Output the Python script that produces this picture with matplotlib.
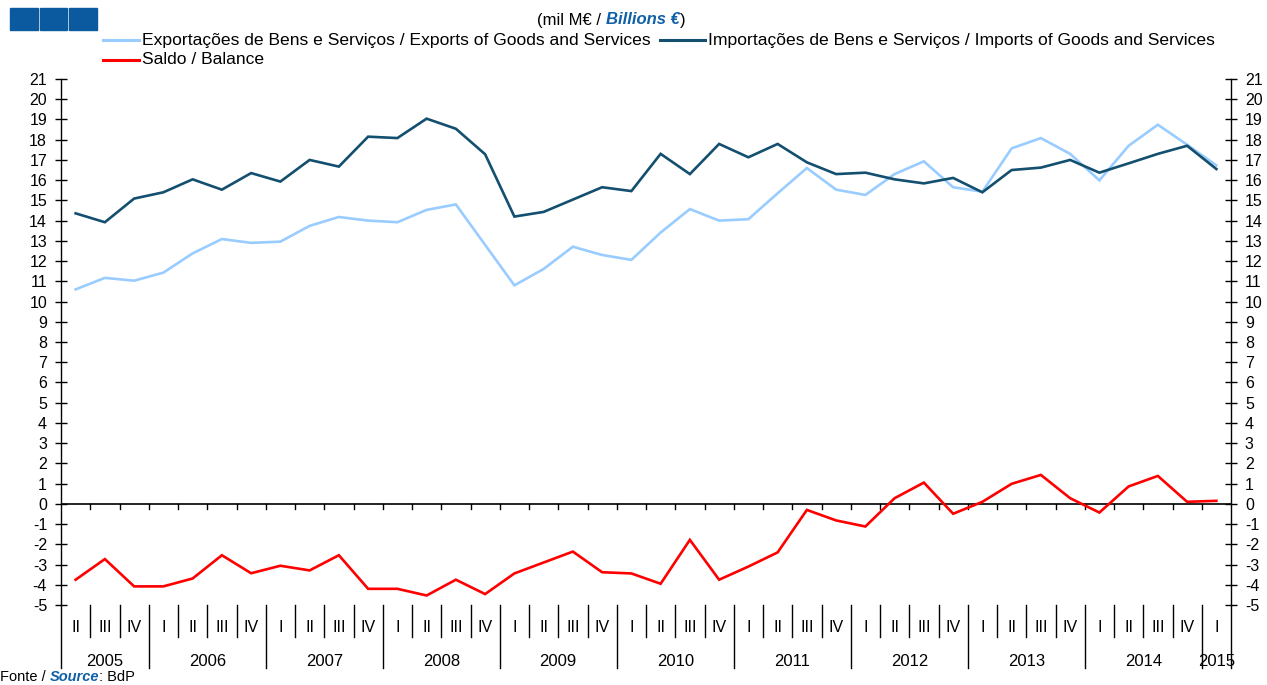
import matplotlib
matplotlib.use('Agg')
import matplotlib.pyplot as plt
from matplotlib.patches import Rectangle
from matplotlib.lines import Line2D
import numpy as np

plt.rcParams['font.family'] = ['Liberation Sans', 'DejaVu Sans']
plt.rcParams['axes.unicode_minus'] = False

years = ['2005', '2006', '2007', '2008', '2009', '2010', '2011', '2012', '2013', '2014', '2015']
quarters = (['II', 'III', 'IV'] + ['I', 'II', 'III', 'IV'] * 9 + ['I'])

exports = [10.6, 11.17, 11.03, 11.43, 12.38, 13.09, 12.9, 12.96, 13.74, 14.18,
           14.0, 13.92, 14.53, 14.8, 12.8, 10.8, 11.61, 12.71, 12.3, 12.06,
           13.41, 14.57, 14.0, 14.07, 15.35, 16.6, 15.53, 15.27, 16.3, 16.93,
           15.65, 15.43, 17.57, 18.08, 17.3, 15.99, 17.7, 18.74, 17.75, 16.73]
imports = [14.36, 13.92, 15.09, 15.4, 16.04, 15.53, 16.35, 15.93, 17.0, 16.67,
           18.15, 18.08, 19.04, 18.54, 17.28, 14.2, 14.43, 15.04, 15.65, 15.46,
           17.3, 16.3, 17.79, 17.13, 17.79, 16.88, 16.3, 16.37, 16.04, 15.84,
           16.11, 15.4, 16.5, 16.62, 17.0, 16.37, 16.83, 17.3, 17.7, 16.55]
balance = [-3.75, -2.73, -4.08, -4.08, -3.69, -2.54, -3.43, -3.06, -3.29, -2.54,
           -4.2, -4.2, -4.53, -3.75, -4.46, -3.44, -2.9, -2.36, -3.38, -3.44,
           -3.95, -1.78, -3.75, -3.1, -2.4, -0.3, -0.82, -1.12, 0.28, 1.05,
           -0.49, 0.1, 0.99, 1.43, 0.28, -0.43, 0.86, 1.38, 0.1, 0.15]

series_labels = ['Exportações de Bens e Serviços / Exports of Goods and Services',
                 'Importações de Bens e Serviços / Imports of Goods and Services',
                 'Saldo / Balance']
colors = ['#99ccff', '#134f6e', '#ff0000']

W, H = 1267, 685
fig = plt.figure(figsize=(W / 100, H / 100), dpi=100)

def fx(px):
    return px / W

def fy(py):
    return 1 - py / H

left_px, right_px, top_px, bot_px = 61, 1231, 79, 605
ax = fig.add_axes([fx(left_px), fy(bot_px), fx(right_px - left_px), (bot_px - top_px) / H])

n = len(quarters)
x = np.arange(n)
for vals, c in zip([exports, imports, balance], colors):
    ax.plot(x, vals, color=c, lw=1.9, solid_joinstyle='miter')

ax.set_xlim(-0.5, n - 0.5)
ax.set_ylim(-5, 21)
ax.set_yticks(range(-5, 22))
ax.set_xticks([])
ax.tick_params(axis='y', direction='inout', length=8, width=1, labelsize=11.5,
               left=True, right=True, labelleft=True, labelright=True, pad=6)
for s in ['top', 'bottom']:
    ax.spines[s].set_visible(False)
for s in ['left', 'right']:
    ax.spines[s].set_linewidth(1)

# zero line with small ticks at quarter boundaries
ax.axhline(0, color='black', lw=1.2, zorder=1)
bounds = np.arange(0.5, n - 0.5, 1)
for b in bounds:
    ax.plot([b, b], [0, -0.25], color='black', lw=1, zorder=1)

# category band below the plot
trans = ax.get_xaxis_transform()
band_short = -32 / (bot_px - top_px)
band_long = -63 / (bot_px - top_px)
q_y = -22 / (bot_px - top_px)
yr_y = -56 / (bot_px - top_px)

year_starts = [i for i, q in enumerate(quarters) if q == 'I']
for b in bounds:
    is_year = (int(b + 0.5) in year_starts)
    ax.plot([b, b], [0, band_long if is_year else band_short], transform=trans,
            color='black', lw=1, clip_on=False)
for xe in [-0.5, n - 0.5]:
    ax.plot([xe, xe], [band_long, 0], transform=trans, color='black', lw=1, clip_on=False)

for i, q in enumerate(quarters):
    ax.text(i, q_y, q, transform=trans, ha='center', va='center', fontsize=11.5)

edges = [-0.5] + [s - 0.5 for s in year_starts] + [n - 0.5]
for k, yr in enumerate(years):
    c = (edges[k] + edges[k + 1]) / 2
    ax.text(c, yr_y, yr, transform=trans, ha='center', va='center', fontsize=12)

# logo squares
for x0, x1 in [(10, 38), (40, 67), (69, 97)]:
    fig.add_artist(Rectangle((fx(x0), fy(30)), fx(x1 - x0), (30 - 8) / H,
                             transform=fig.transFigure, color='#0b5aa0'))

# unit title
t1 = fig.text(fx(537), fy(20), '(mil M€ / ', fontsize=12, va='center', ha='left')
a2 = fig.add_artist(matplotlib.text.Annotation('Billions €', xy=(1, 0), xycoords=t1,
                    va='bottom', ha='left', fontsize=12, fontweight='bold',
                    style='italic', color='#1060a8'))
a3 = fig.add_artist(matplotlib.text.Annotation(')', xy=(1, 0), xycoords=a2,
                    va='bottom', ha='left', fontsize=12))

# legend
leg = [(103, 139, 142, 40, 0), (660, 705, 708, 40, 1), (103, 139, 142, 60, 2)]
for xa, xb, xt, yy, k in leg:
    fig.add_artist(Line2D([fx(xa), fx(xb)], [fy(yy), fy(yy)], transform=fig.transFigure,
                          color=colors[k], lw=2.2))
    fig.text(fx(xt), fy(yy), series_labels[k], fontsize=12.6, va='center', ha='left')

# source
s1 = fig.text(fx(0), fy(684), 'Fonte / ', fontsize=10.5, va='bottom', ha='left')
s2 = fig.add_artist(matplotlib.text.Annotation('Source', xy=(1, 0), xycoords=s1,
                    va='bottom', ha='left', fontsize=10.5, fontweight='bold',
                    style='italic', color='#1060a8'))
s3 = fig.add_artist(matplotlib.text.Annotation(': BdP', xy=(1, 0), xycoords=s2,
                    va='bottom', ha='left', fontsize=10.5))

fig.savefig('out.png', dpi=100)
